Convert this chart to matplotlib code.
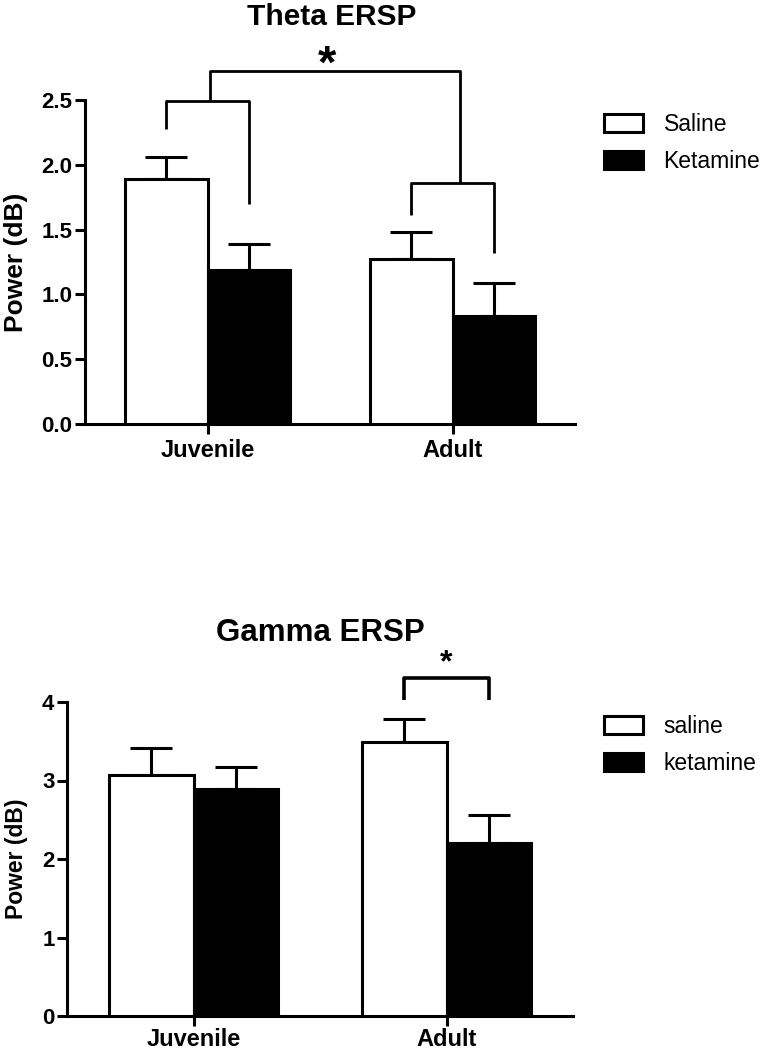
import numpy as np
import matplotlib
matplotlib.use("Agg")
from matplotlib import pyplot as plt

plt.rcParams['font.family'] = ['Liberation Sans', 'DejaVu Sans']

# datos
grupos = ["Juvenile", "Adult"]

theta_saline = [1.89, 1.27]
theta_saline_err = [0.17, 0.21]
theta_ketamine = [1.19, 0.83]
theta_ketamine_err = [0.20, 0.26]

gamma_saline = [3.07, 3.49]
gamma_saline_err = [0.34, 0.29]
gamma_ketamine = [2.89, 2.21]
gamma_ketamine_err = [0.28, 0.35]

ancho = 0.335
lw = 2.2

fig = plt.figure(figsize=(7.73, 10.5), dpi=100)
ax1 = fig.add_axes([85/773, 1-424/1050, 490/773, 324/1050])
ax2 = fig.add_axes([67/773, 1-1016/1050, 506/773, 314/1050])


def barras(ax, sal, sal_err, ket, ket_err, etiquetas, ylab_size, ylab_x, xpad):
    x = np.arange(len(grupos))
    ax.bar(x - ancho/2, sal, ancho, color='white', edgecolor='black', linewidth=lw,
           label=etiquetas[0], zorder=3)
    ax.bar(x + ancho/2, ket, ancho, color='black', edgecolor='black', linewidth=lw,
           label=etiquetas[1], zorder=3)
    ax.errorbar(x - ancho/2, sal, yerr=[np.zeros(len(sal)), sal_err], fmt='none',
                ecolor='black', elinewidth=lw, capsize=15, capthick=lw, zorder=2)
    ax.errorbar(x + ancho/2, ket, yerr=[np.zeros(len(ket)), ket_err], fmt='none',
                ecolor='black', elinewidth=lw, capsize=15, capthick=lw, zorder=2)
    ax.set_xlim(-0.5, 1.5)
    ax.set_xticks(x)
    ax.set_xticklabels(grupos, fontsize=17, fontweight='bold')
    ax.spines['top'].set_visible(False)
    ax.spines['right'].set_visible(False)
    ax.spines['left'].set_linewidth(lw)
    ax.spines['bottom'].set_linewidth(lw)
    ax.tick_params(axis='both', width=lw, length=7)
    ax.tick_params(axis='x', labelsize=17, pad=xpad)
    ax.tick_params(axis='y', labelsize=16, pad=2)
    ax.set_ylabel('Power (dB)', fontsize=ylab_size, fontweight='bold')
    ax.yaxis.set_label_coords(ylab_x, 0.5)
    return x


def corchete(ax, x0, x1, y, y0, y1, w=2.0):
    ax.plot([x0, x0, x1, x1], [y0, y, y, y1], color='black', lw=w,
            clip_on=False, solid_capstyle='butt', zorder=4)


leyenda = dict(bbox_transform=fig.transFigure, frameon=False, fontsize=16.5,
               handlelength=1.7, handleheight=0.85, handletextpad=0.9,
               labelspacing=0.6, borderpad=0, borderaxespad=0, loc='upper left')

# Theta
x = barras(ax1, theta_saline, theta_saline_err, theta_ketamine, theta_ketamine_err,
           ["Saline", "Ketamine"], 19, (28-85)/490, 3.5)
ax1.set_ylim(0, 2.5)
ax1.set_yticks([0, 0.5, 1.0, 1.5, 2.0, 2.5])
ax1.set_yticklabels(['0.0', '0.5', '1.0', '1.5', '2.0', '2.5'], fontweight='bold')
corchete(ax1, x[0] - ancho/2, x[0] + ancho/2, 2.49, 2.28, 1.70)
corchete(ax1, x[1] - ancho/2, x[1] + ancho/2, 1.86, 1.61, 1.32)
corchete(ax1, x[0] + 0.01, x[1] + 0.03, 2.72, 2.49, 1.86)
ax1.text(0.49, 2.67, '*', ha='center', va='baseline', fontsize=34, fontweight='bold')
fig.text(332/773, 1-25/1050, 'Theta ERSP', ha='center', va='baseline',
         fontsize=21.5, fontweight='bold')
ax1.legend(bbox_to_anchor=(604/773, 1-113/1050), **leyenda)

# Gamma
x = barras(ax2, gamma_saline, gamma_saline_err, gamma_ketamine, gamma_ketamine_err,
           ["saline", "ketamine"], 16.5, (28-67)/506, 1.5)
ax2.set_ylim(0, 4)
ax2.set_yticks([0, 1, 2, 3, 4])
ax2.set_yticklabels(['0', '1', '2', '3', '4'], fontweight='bold')
corchete(ax2, x[1] - ancho/2, x[1] + ancho/2, 4.31, 4.03, 4.03, w=2.6)
ax2.text(1.0, 4.39, '*', ha='center', va='baseline', fontsize=23, fontweight='bold')
fig.text(320/773, 1-641/1050, 'Gamma ERSP', ha='center', va='baseline',
         fontsize=22.5, fontweight='bold')
ax2.legend(bbox_to_anchor=(604/773, 1-715/1050), **leyenda)

fig.savefig('out.png', dpi=100)
